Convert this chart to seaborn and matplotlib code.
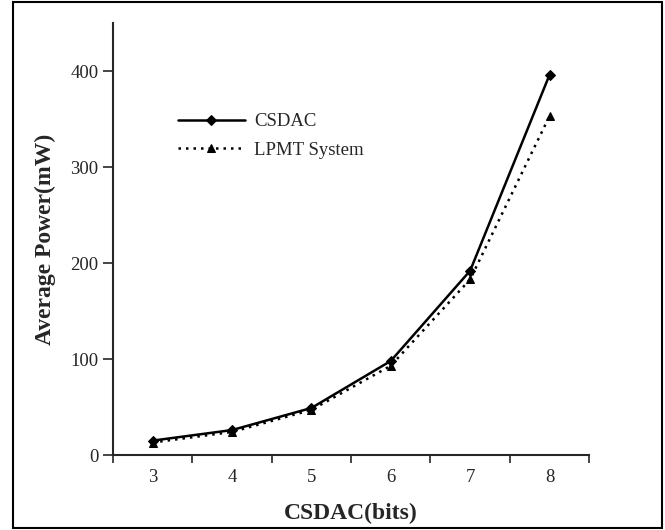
import matplotlib
matplotlib.use("Agg")
import matplotlib.pyplot as plt
from matplotlib.patches import Rectangle
import pandas as pd
import seaborn as sns

bits = [3, 4, 5, 6, 7, 8]
csdac_power = [15, 26, 49, 98, 192, 396]
lpmt_power = [13, 24, 47, 93, 183, 353]

sns.set_style("ticks")
plt.rcParams["font.family"] = ["Liberation Serif", "DejaVu Serif"]

df = pd.DataFrame({
    "bits": bits * 2,
    "power": csdac_power + lpmt_power,
    "series": ["CSDAC"] * len(bits) + ["LPMT System"] * len(bits),
})

fig = plt.figure(figsize=(6.65, 5.3), dpi=100)
ax = fig.add_axes([0.170, 0.1415, 0.716, 0.815])

sns.lineplot(
    data=df, x="bits", y="power", hue="series", style="series",
    palette=["black", "black"], dashes=[(None, None), (1, 2)],
    markers=["D", "^"], markersize=5.5, linewidth=1.8,
    markeredgecolor="black", ax=ax,
)

ax.set_xlim(2.5, 8.5)
ax.set_ylim(0, 450)
ax.set_yticks([0, 100, 200, 300, 400])
ax.set_xticks(bits)
ax.set_xticks([b - 0.5 for b in bits] + [8.5], minor=True)
ax.tick_params(axis="x", which="major", length=0, pad=10, labelsize=13.5)
ax.tick_params(axis="x", which="minor", length=6, width=1.2, direction="out")
ax.tick_params(axis="y", length=7, width=1.2, direction="out", labelsize=13.5)

sns.despine(ax=ax)
for s in ("left", "bottom"):
    ax.spines[s].set_linewidth(1.5)

ax.set_xlabel("CSDAC(bits)", fontsize=17, fontweight="bold", labelpad=12)
ax.set_ylabel("Average Power(mW)", fontsize=17, fontweight="bold", labelpad=10)

leg = ax.legend(loc="upper left", bbox_to_anchor=(0.1, 0.83), frameon=False,
                fontsize=13.5, handlelength=3.6, handletextpad=0.5,
                labelspacing=0.6)

fig.add_artist(Rectangle((0.02, 0.003), 0.975, 0.994, transform=fig.transFigure,
                         fill=False, edgecolor="black", linewidth=1.5))

fig.savefig("out.png", dpi=100)
